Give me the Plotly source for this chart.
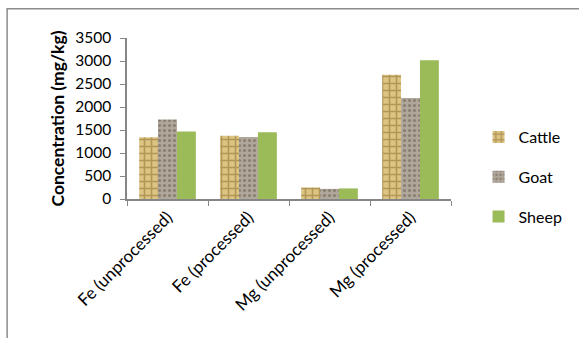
import plotly.graph_objects as go

# Mineral concentrations in dung samples by livestock species
categories = ["Fe (unprocessed)", "Fe (processed)", "Mg (unprocessed)", "Mg (processed)"]
cattle = [1340, 1375, 250, 2700]
goat = [1730, 1350, 220, 2195]
sheep = [1470, 1450, 230, 3015]
y_ticks = [0, 500, 1000, 1500, 2000, 2500, 3000, 3500]

FONT = "Lato, Calibri, Carlito, sans-serif"
AXIS_GREY = "#868686"

fig = go.Figure()
fig.add_trace(go.Bar(
    name="Cattle", x=categories, y=cattle, legendgroup="c",
    marker=dict(
        color="#d9bf7c",
        line=dict(width=0),
        pattern=dict(shape="+", fgcolor="#86672a", bgcolor="#dcc483",
                     size=7, solidity=0.4, fillmode="overlay"),
    ),
))
fig.add_trace(go.Bar(
    name="Goat", x=categories, y=goat, legendgroup="g",
    marker=dict(
        color="#a89d90",
        line=dict(width=0),
        pattern=dict(shape=".", fgcolor="#5f574d", bgcolor="#b0a699",
                     size=5, solidity=0.3, fillmode="overlay"),
    ),
))
fig.add_trace(go.Bar(
    name="Sheep", x=categories, y=sheep, legendgroup="s",
    marker=dict(color="#9bbb59", line=dict(width=0)),
))

fig.update_layout(
    width=579, height=338,
    barmode="group", bargap=0.3, bargroupgap=0,
    paper_bgcolor="white", plot_bgcolor="white",
    margin=dict(l=127, r=125, t=38, b=139),
    font=dict(family=FONT, size=15, color="black"),
    showlegend=True,
    legend=dict(
        x=1.085, y=0.49, xanchor="left", yanchor="top",
        traceorder="grouped", tracegroupgap=16,
        font=dict(size=16), itemwidth=30,
        bgcolor="rgba(0,0,0,0)",
    ),
    xaxis=dict(
        type="category", tickangle=-45, showline=True, linecolor=AXIS_GREY,
        linewidth=1.5, ticks="outside", tickson="boundaries", ticklen=5,
        tickcolor=AXIS_GREY, tickfont=dict(size=17), showgrid=False,
    ),
    yaxis=dict(
        range=[0, 3500], tickvals=y_ticks, showline=True, linecolor=AXIS_GREY,
        linewidth=1.5, ticks="outside", ticklen=5, tickcolor=AXIS_GREY,
        tickfont=dict(size=15.5), ticklabelstandoff=6, showgrid=False, zeroline=False,
        title=dict(text="<b>Concentration (mg/kg)</b>", font=dict(size=17.5), standoff=6),
    ),
    shapes=[dict(
        type="rect", xref="paper", yref="paper",
        x0=-0.37, x1=1.5, y0=-1.2, y1=1.182,
        line=dict(color="#8c8c8c", width=1.5), fillcolor="rgba(0,0,0,0)",
        layer="below",
    )],
)

fig.write_html("out.html")
